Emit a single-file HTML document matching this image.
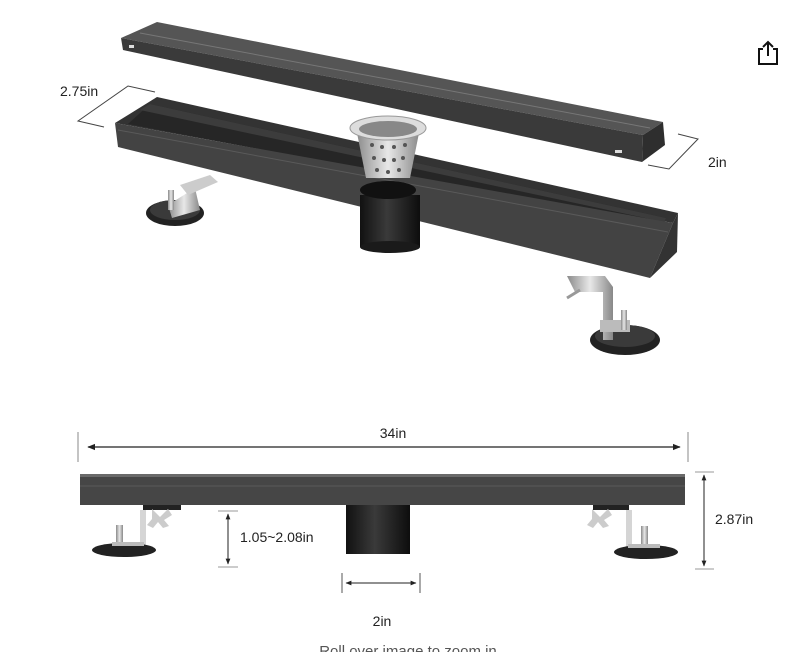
<!DOCTYPE html>
<html><head><meta charset="utf-8"><style>
html,body{margin:0;padding:0;background:#fff;}
svg{display:block;}
text{font-family:"Liberation Sans",sans-serif;}
</style></head><body>
<svg width="803" height="652" viewBox="0 0 803 652" xmlns="http://www.w3.org/2000/svg">
<defs>
<linearGradient id="pipe" x1="0" x2="1" y1="0" y2="0">
<stop offset="0" stop-color="#111"/><stop offset="0.45" stop-color="#3a3a3a"/><stop offset="1" stop-color="#0d0d0d"/>
</linearGradient>
<linearGradient id="steel" x1="0" x2="1">
<stop offset="0" stop-color="#8a8a8a"/><stop offset="0.5" stop-color="#e8e8e8"/><stop offset="1" stop-color="#888"/>
</linearGradient>
<marker id="ar" viewBox="0 0 10 10" refX="9" refY="5" markerWidth="6" markerHeight="6" orient="auto-start-reverse"><path d="M0,1 L10,5 L0,9z" fill="#222"/></marker>
</defs>

<g stroke="#111" stroke-width="2" fill="none">
<path d="M763,49 h-4 v15 h18 v-15 h-4"/>
<path d="M768,56 v-14 M763,47 l5,-5 l5,5"/>
</g>

<polygon points="157,22 663,122 643,135 121,38" fill="#555"/>
<polygon points="121,38 643,135 642,162 123,50" fill="#3a3a3a"/>
<polygon points="663,122 665,145 642,162 643,135" fill="#2e2e2e"/>
<line x1="140" y1="33" x2="650" y2="128" stroke="#777" stroke-width="1"/>
<rect x="129" y="45" width="5" height="3" fill="#ddd"/>
<rect x="615" y="150" width="7" height="3" fill="#ddd"/>

<polyline points="155,92 128,86 78,121 104,127" fill="none" stroke="#444" stroke-width="1"/>
<text x="60" y="96" font-size="14" fill="#222">2.75in</text>
<polyline points="678,134 698,139 669,169 648,165" fill="none" stroke="#444" stroke-width="1"/>
<text x="708" y="167" font-size="14" fill="#222">2in</text>

<ellipse cx="175" cy="213" rx="29" ry="13" fill="#222"/>
<ellipse cx="175" cy="210" rx="25" ry="10" fill="#3a3a3a"/>
<polygon points="168,205 195,188 200,210 172,218" fill="url(#steel)"/>
<polygon points="180,185 210,175 218,182 188,195" fill="#ccc"/>
<rect x="168" y="190" width="6" height="20" fill="url(#steel)"/>

<polygon points="157,97 678,213 673,223 115,123" fill="#333"/>
<polygon points="150,104 666,218 660,226 128,124" fill="#262626"/>
<polygon points="150,104 666,218 664,222 140,110" fill="#3c3c3c"/>
<polygon points="115,123 673,223 650,278 118,147" fill="#434343"/>
<polygon points="673,223 678,213 677,252 650,278" fill="#333"/>
<line x1="118" y1="130" x2="668" y2="232" stroke="#5a5a5a" stroke-width="1"/>
<rect x="360" y="195" width="60" height="52" fill="url(#pipe)"/>
<ellipse cx="390" cy="247" rx="30" ry="6" fill="#1a1a1a"/>
<ellipse cx="388" cy="190" rx="28" ry="9" fill="#111"/>
<polygon points="356,128 420,128 410,178 366,178" fill="url(#steel)"/>
<ellipse cx="388" cy="128" rx="38" ry="12" fill="#ddd" stroke="#999"/>
<ellipse cx="388" cy="129" rx="29" ry="8" fill="#888"/>
<g fill="#555">
<circle cx="372" cy="145" r="2"/><circle cx="382" cy="147" r="2"/><circle cx="394" cy="147" r="2"/><circle cx="405" cy="145" r="2"/>
<circle cx="374" cy="158" r="2"/><circle cx="384" cy="160" r="2"/><circle cx="394" cy="160" r="2"/><circle cx="403" cy="158" r="2"/>
<circle cx="377" cy="170" r="2"/><circle cx="388" cy="172" r="2"/><circle cx="399" cy="170" r="2"/>
</g>

<ellipse cx="625" cy="340" rx="35" ry="15" fill="#222"/>
<ellipse cx="625" cy="336" rx="30" ry="11" fill="#3a3a3a"/>
<polygon points="567,276 605,276 613,287 613,340 603,340 603,292 575,292" fill="url(#steel)"/>
<rect x="600" y="320" width="30" height="12" fill="#bbb"/>
<rect x="621" y="310" width="6" height="20" fill="url(#steel)"/>
<line x1="567" y1="298" x2="580" y2="290" stroke="#999" stroke-width="3"/>

<line x1="78" y1="432" x2="78" y2="462" stroke="#888"/>
<line x1="688" y1="432" x2="688" y2="462" stroke="#888"/>
<line x1="88" y1="447" x2="680" y2="447" stroke="#222" stroke-width="1.3" marker-start="url(#ar)" marker-end="url(#ar)"/>
<text x="393" y="438" font-size="14" text-anchor="middle" fill="#222">34in</text>

<rect x="80" y="474" width="605" height="31" fill="#464646"/>
<rect x="80" y="474" width="605" height="3" fill="#6a6a6a"/>
<line x1="80" y1="486" x2="685" y2="486" stroke="#5a5a5a"/>
<rect x="346" y="505" width="64" height="49" fill="url(#pipe)"/>

<rect x="143" y="505" width="38" height="5" fill="#222"/>
<rect x="140" y="510" width="6" height="40" fill="#d5d5d5"/>
<path d="M152,512 l8,8 l8,-8 l4,6 l-8,5 l5,6 l-6,2 l-5,-6 l-5,6 l-6,-3 l5,-6z" fill="#ccc" transform="translate(0,-3)"/>
<ellipse cx="124" cy="550" rx="32" ry="7" fill="#222"/>
<rect x="116" y="525" width="7" height="20" fill="url(#steel)"/>
<rect x="112" y="542" width="32" height="4" fill="#bbb"/>
<rect x="593" y="505" width="36" height="5" fill="#222"/>
<rect x="626" y="510" width="6" height="40" fill="#d5d5d5"/>
<path d="M592,512 l8,8 l8,-8 l4,6 l-8,5 l5,6 l-6,2 l-5,-6 l-5,6 l-6,-3 l5,-6z" fill="#ccc" transform="translate(0,-3)"/>
<ellipse cx="646" cy="552" rx="32" ry="7" fill="#222"/>
<rect x="641" y="526" width="7" height="20" fill="url(#steel)"/>
<rect x="628" y="544" width="32" height="4" fill="#bbb"/>

<line x1="218" y1="511" x2="238" y2="511" stroke="#999"/>
<line x1="218" y1="567" x2="238" y2="567" stroke="#999"/>
<line x1="228" y1="514" x2="228" y2="564" stroke="#222" stroke-width="1" marker-start="url(#ar)" marker-end="url(#ar)"/>
<text x="240" y="542" font-size="14" fill="#222">1.05~2.08in</text>

<line x1="695" y1="472" x2="714" y2="472" stroke="#999"/>
<line x1="695" y1="569" x2="714" y2="569" stroke="#999"/>
<line x1="704" y1="475" x2="704" y2="566" stroke="#222" stroke-width="1" marker-start="url(#ar)" marker-end="url(#ar)"/>
<text x="715" y="524" font-size="14" fill="#222">2.87in</text>

<line x1="342" y1="573" x2="342" y2="593" stroke="#555"/>
<line x1="420" y1="573" x2="420" y2="593" stroke="#555"/>
<line x1="346" y1="583" x2="416" y2="583" stroke="#222" stroke-width="1" marker-start="url(#ar)" marker-end="url(#ar)"/>
<text x="382" y="626" font-size="14" text-anchor="middle" fill="#222">2in</text>

<text x="408" y="656" font-size="15" text-anchor="middle" fill="#555">Roll over image to zoom in</text>
</svg>
</body></html>
